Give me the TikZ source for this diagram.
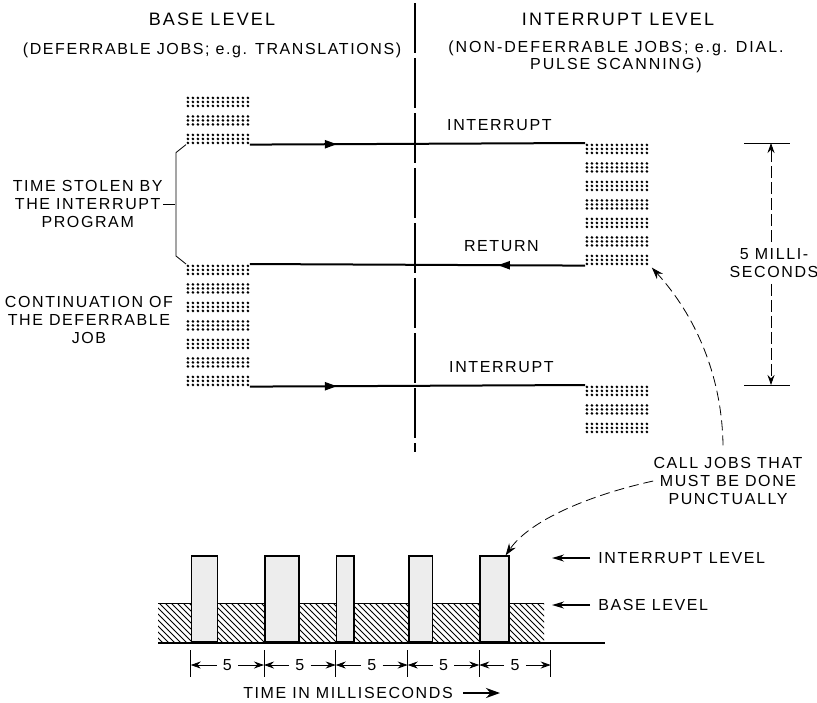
\documentclass[tikz,border=0pt]{standalone}
\usepackage{fontspec}
\setmainfont{Liberation Sans}[LetterSpace=10]
\usetikzlibrary{arrows.meta,calc,patterns,decorations.markings}

\begin{document}
\begin{tikzpicture}[x=0.5pt, y=-0.5pt, font=\fontsize{8}{8.8}\selectfont, every node/.style={align=center, inner sep=0pt}, head/.style={font=\fontsize{9}{9}\selectfont\addfontfeatures{LetterSpace=12}}, dotrow/.style={line width=1.45pt, line cap=round, dash pattern=on 0pt off 2.5pt}, dotblk/.style={anchor=north west, minimum width=31.5pt, minimum height={(#1-1)*9.25pt+5.4pt}, path picture={\foreach \g in {1,...,#1} \foreach \k in {0,1,2} \draw[dotrow] ([xshift=0.75pt,yshift={-((\g-1)*9.25+\k*2+0.75)*1pt}]path picture bounding box.north west) -- ([xshift=-0.75pt,yshift={-((\g-1)*9.25+\k*2+0.75)*1pt}]path picture bounding box.north east);}}, jobline/.style={line width=1pt, postaction={decorate}, decoration={markings, mark=at position 0.26 with {\arrow{Triangle[length=6pt,width=4pt]}}}}, dimline/.style={thin, dash pattern=on 6pt off 2pt, -{Stealth[length=5pt,width=3.5pt]}}, callarr/.style={thin, dash pattern=on 5pt off 2.5pt, -{Stealth[length=6pt,width=4pt]}}, ptr/.style={line width=0.7pt, -{Stealth[length=6pt,width=3.5pt]}}, bar/.style={draw, line width=0.8pt, fill=gray!14, anchor=south west, minimum height=43pt}]
\useasboundingbox (0,0) rectangle (817,702);

% headings
\node[head] (hbase) at (212,19) {BASE LEVEL};
\node (hbsub) at (212,50) {(DEFERRABLE JOBS; e.g. TRANSLATIONS)};
\node[head] (hint) at (618,19) {INTERRUPT LEVEL};
\node[font=\fontsize{8}{6.8}\selectfont\addfontfeatures{LetterSpace=12}] (hisub) at (616,57) {(NON-DEFERRABLE JOBS; e.g. DIAL.\\PULSE SCANNING)};
\draw[line width=0.7pt, dash pattern=on 25pt off 2.5pt] (415,3) -- (415,452);

% job blocks
\node[dotblk=3] (lt) at (186,96) {};
\node[dotblk=7] (rt) at (585,143) {};
\node[dotblk=7] (lm) at (186,264) {};
\node[dotblk=3] (rb) at (585,385) {};

\draw[jobline] (lt.south east) -- node[above=6pt, xshift=41pt]{INTERRUPT} (rt.north west);
\draw[jobline] (rt.south west) -- node[above=6pt, xshift=42pt]{RETURN} (lm.north east);
\draw[jobline] (lm.south east) -- node[above=6pt, xshift=42pt]{INTERRUPT} (rb.north west);

% left notes
\node[anchor=east] (stolen) at (163,204) {TIME STOLEN BY\\THE INTERRUPT\\PROGRAM};
\node (contin) at (89,320) {CONTINUATION OF\\THE DEFERRABLE\\JOB};
\coordinate (brk) at (175,204);
\draw[thin] (lt.south west) -- ++(-10,8) -- ($(lm.north west)+(-10,-8)$) -- (lm.north west);
\draw[thin] (stolen.east) -- (brk);

% 5 ms dimension
\coordinate (dtop) at (771,143);
\coordinate (dbot) at (771,385);
\draw[thin] (744,143) -- (790,143);
\draw[thin] (744,385) -- (790,385);
\node[inner sep=3pt] (msec) at (774,263) {5 MILLI-\\SECONDS};
\draw[dimline] (msec.north -| dtop) -- (dtop);
\draw[dimline] (msec.south -| dbot) -- (dbot);

% bottom chart
\fill[pattern=north west lines] (158,603) rectangle (544,643);
\draw[thin] (158,603) -- (544,603);
\foreach \a/\b [count=\i] in {190.7/216.5, 264/298, 335.7/353, 408/431.5, 479.3/508}
  \node[bar, minimum width={(\b-\a)*0.5pt}] (bar\i) at (\a,643) {};
\draw[line width=1pt] (158,643) -- (605,643);

\node (calljobs) at (728,481) {CALL JOBS THAT\\MUST BE DONE\\PUNCTUALLY};
\draw[callarr] ([xshift=-2.5pt,yshift=6pt]calljobs.north) .. controls (722,375) and (695,315) .. ([xshift=1.5pt,yshift=-1pt]rt.south east);
\draw[callarr] (calljobs.west) .. controls (590,495) and (530,520) .. ([xshift=-2pt]bar5.north east);

\node[anchor=west] (ilvl) at (598,558) {INTERRUPT LEVEL};
\node[anchor=west] (blvl) at (598,605) {BASE LEVEL};
\coordinate (ip) at (552,558);
\coordinate (bp) at (552,605);
\draw[ptr] ([xshift=-4pt]ilvl.west) -- (ip);
\draw[ptr] ([xshift=-4pt]blvl.west) -- (bp);

% time scale
\foreach \a/\b [count=\i] in {190.7/264, 264/335.7, 335.7/407.7, 407.7/479.3, 479.3/550.7} {
  \draw[thin] (\a,650) -- (\a,677);
  \coordinate (tl\i) at (\a,665);
  \coordinate (tr\i) at (\b,665);
  \node[inner sep=3pt] (five\i) at ({(\a+\b)/2},665) {5};
  \draw[thin, -{Stealth[length=5pt,width=3.5pt]}] (five\i) -- (tl\i);
  \draw[thin, -{Stealth[length=5pt,width=3.5pt]}] (five\i) -- (tr\i);
}
\draw[thin] (550.7,650) -- (550.7,677);
\node (taxis) at (348,693) {TIME IN MILLISECONDS};
\coordinate (tend) at (500,693);
\draw[line width=1.2pt, -{Stealth[length=7pt,width=5pt]}] ([xshift=5pt]taxis.east) -- (tend);
\end{tikzpicture}
\end{document}
